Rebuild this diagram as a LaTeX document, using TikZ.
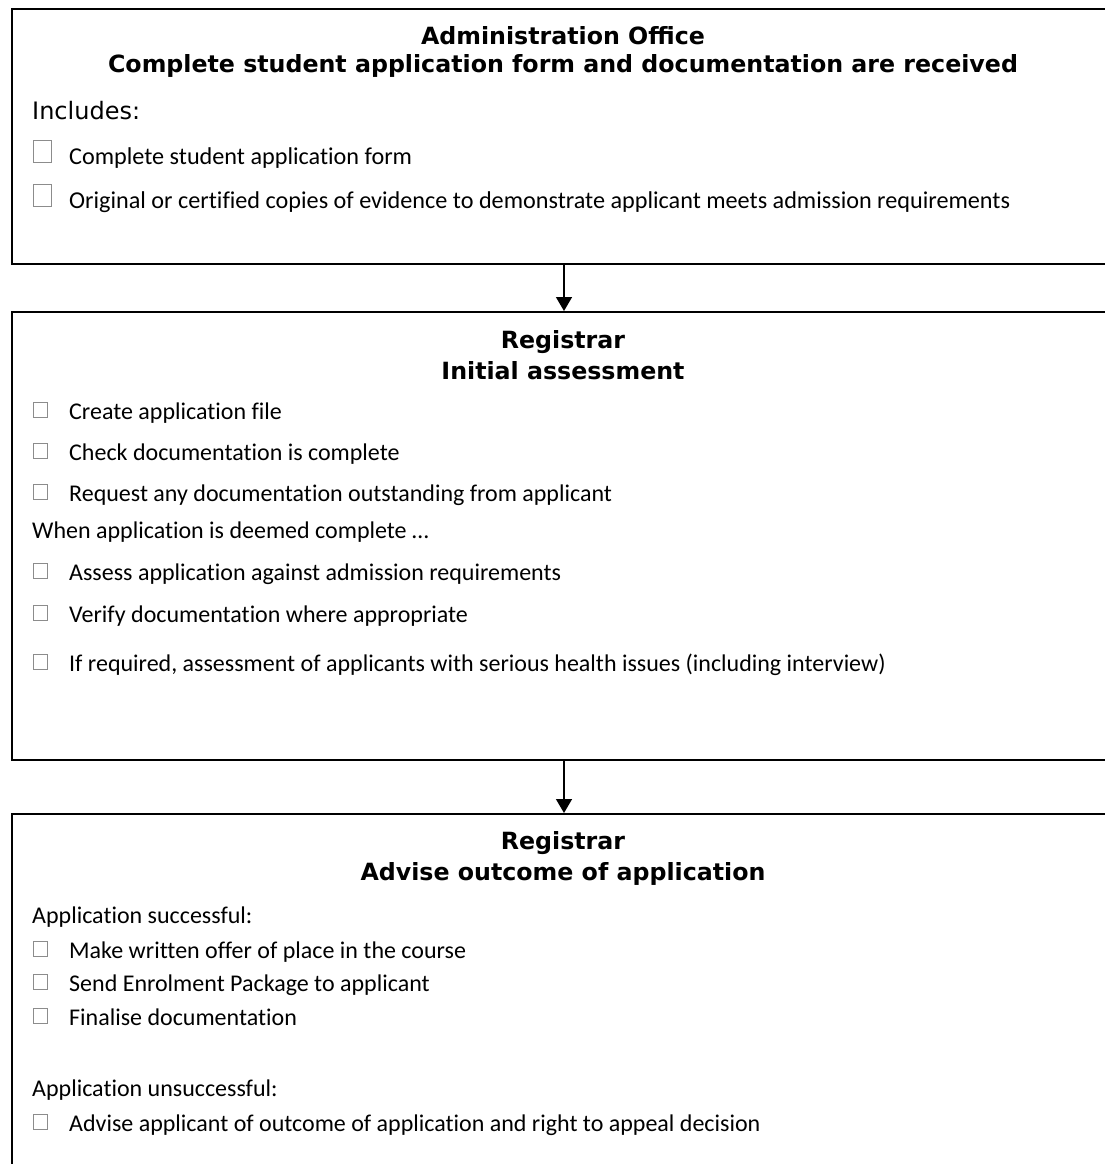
\documentclass[tikz,border=0pt]{standalone}
\usepackage{fontspec}
\setmainfont{Carlito}[Ligatures=CommonOff]
\newfontfamily\headfont{DejaVu Sans}
\usetikzlibrary{positioning}
\usetikzlibrary{arrows.meta}

\tikzset{
  stage/.style={draw, line width=2pt, rectangle, anchor=north west, minimum width=1104pt, inner sep=0},
  head/.style={font=\headfont\bfseries\fontsize{23.7}{28}\selectfont, inner sep=0, anchor=base},
  item/.style={font=\fontsize{24}{28}\selectfont, inner sep=0, anchor=base west},
  bigitem/.style={item, font=\fontsize{24.2}{29}\selectfont},
  tickbox/.style={draw=black!45, line width=0.8pt, minimum width=14pt, minimum height=15pt, inner sep=0, anchor=south west},
  bigtickbox/.style={tickbox, minimum width=18pt, minimum height=22pt},
  flow/.style={-{Triangle[length=14pt,width=16pt]}, line width=1.5pt}
}

\begin{document}
\begin{tikzpicture}[x=1pt, y=-1pt]
		\useasboundingbox (0,0) rectangle (1105,1164);
		\clip (0,0) rectangle (1105,1164);
		% boxes
		\node (office) [stage, minimum height=255pt] at (11,8) {};
		\node (initial) [stage, minimum height=448pt] at (11,311) {};
		\node (outcome) [stage, minimum height=440pt] at (11,813) {};
		\draw[flow] (office) -- (initial);
		\draw[flow] (initial) -- (outcome);
		% administration office
		\node (h1a) [head] at (563,45) {Administration Office};
		\node (h1b) [head] at (563,73) {Complete student application form and documentation are received};
		\node (inc) [item, font=\headfont\fontsize{24}{28}\selectfont] at (32,119) {Includes:};
		\node (c11) [bigtickbox] at (33,163) {};
		\node (t11) [bigitem] at (69,164) {Complete student application form};
		\node (c12) [bigtickbox] at (33,207) {};
		\node (t12) [bigitem] at (69,208) {Original or certified copies of evidence to demonstrate applicant meets admission requirements};
		% registrar, initial assessment
		\node (h2a) [head] at (563,348) {Registrar};
		\node (h2b) [head] at (563,379) {Initial assessment};
		\node (c21) [tickbox] at (33,418) {};
		\node (t21) [item] at (69,419) {Create application file};
		\node (c22) [tickbox] at (33,459) {};
		\node (t22) [item] at (69,460) {Check documentation is complete};
		\node (c23) [tickbox] at (33,500) {};
		\node (t23) [item] at (69,501) {Request any documentation outstanding from applicant};
		\node (t24) [item] at (32,538) {When application is deemed complete …};
		\node (c25) [tickbox] at (33,579) {};
		\node (t25) [item] at (69,580) {Assess application against admission requirements};
		\node (c26) [tickbox] at (33,621) {};
		\node (t26) [item] at (69,622) {Verify documentation where appropriate};
		\node (c27) [tickbox] at (33,670) {};
		\node (t27) [item] at (69,671) {If required, assessment of applicants with serious health issues (including interview)};
		% registrar, outcome
		\node (h3a) [head] at (563,849) {Registrar};
		\node (h3b) [head] at (563,880) {Advise outcome of application};
		\node (t30) [item] at (32,923) {Application successful:};
		\node (c31) [tickbox] at (33,957) {};
		\node (t31) [item] at (69,958) {Make written offer of place in the course};
		\node (c32) [tickbox] at (33,990) {};
		\node (t32) [item] at (69,991) {Send Enrolment Package to applicant};
		\node (c33) [tickbox] at (33,1024) {};
		\node (t33) [item] at (69,1025) {Finalise documentation};
		\node (t34) [item] at (32,1096) {Application unsuccessful:};
		\node (c35) [tickbox] at (33,1130) {};
		\node (t35) [item] at (69,1131) {Advise applicant of outcome of application and right to appeal decision};
\end{tikzpicture}
\end{document}
